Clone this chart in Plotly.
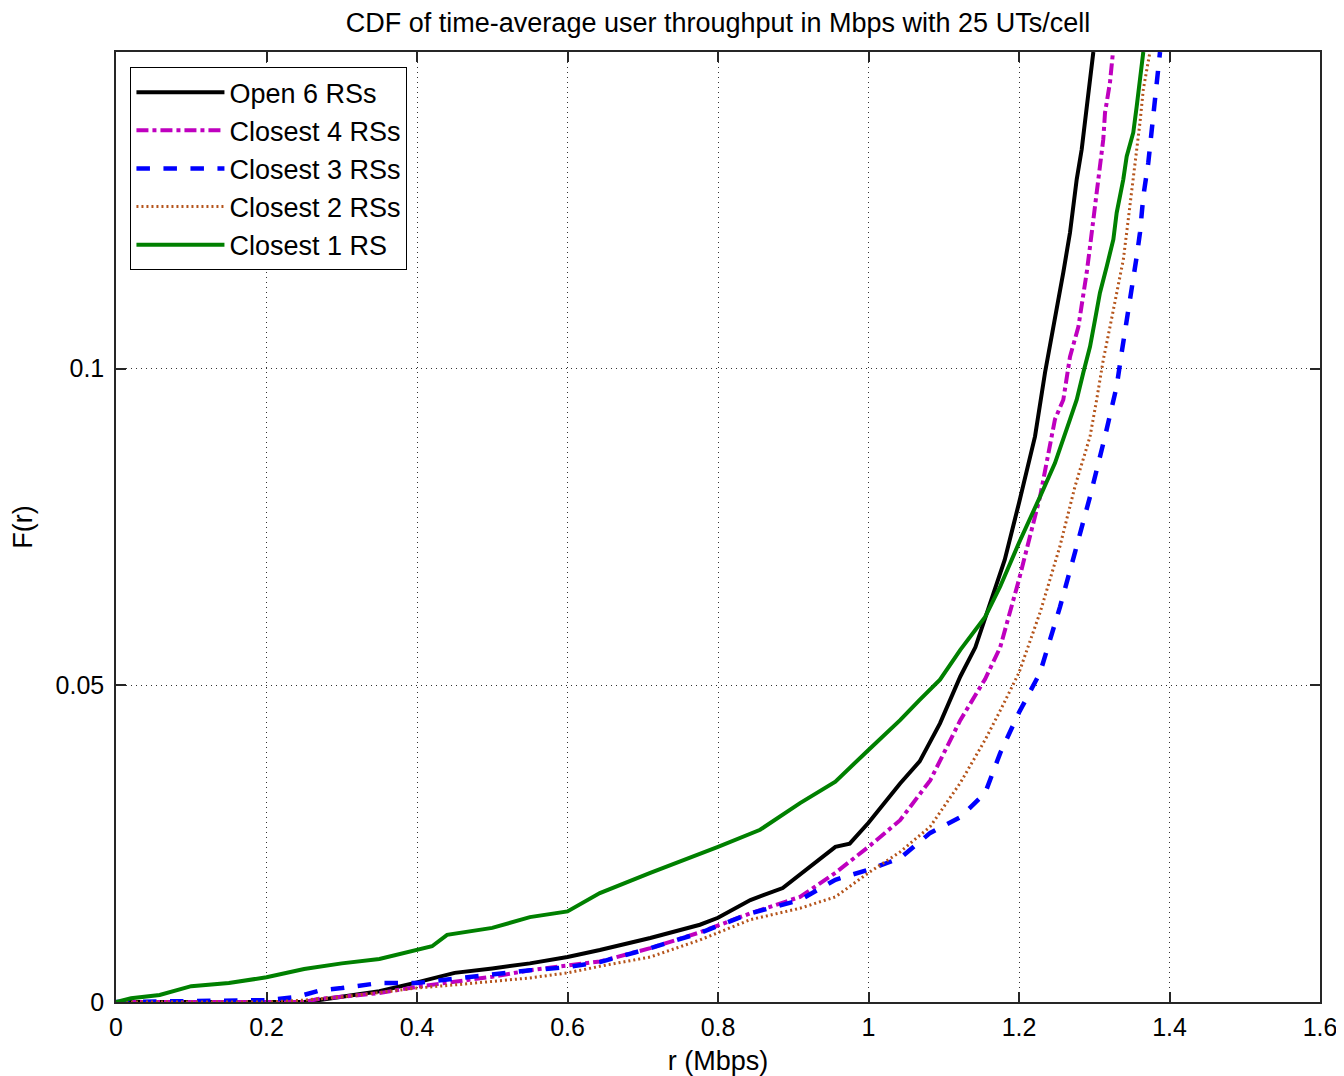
import plotly.graph_objects as go

# ---------------- data ----------------
open6_r = [0, 0.25, 0.27, 0.30, 0.35, 0.40, 0.45, 0.50, 0.55, 0.60, 0.643, 0.71, 0.776, 0.80, 0.843, 0.886,
           0.922, 0.956, 0.975, 1.0, 1.042, 1.068, 1.095, 1.122, 1.142, 1.162, 1.181, 1.2, 1.2213, 1.2346,
           1.2456, 1.2589, 1.2678, 1.2767, 1.2833, 1.29, 1.2988]
open6_F = [0, 0, 0.0003, 0.0008, 0.0017, 0.0031, 0.0046, 0.0053, 0.0061, 0.0071, 0.0082, 0.0101, 0.0122, 0.0133,
           0.0161, 0.018, 0.0213, 0.0245, 0.025, 0.0283, 0.0345, 0.038, 0.044, 0.0514, 0.056, 0.063, 0.0698,
           0.0788, 0.0893, 0.0994, 0.1062, 0.1152, 0.1215, 0.1299, 0.1346, 0.1414, 0.15]

close4_r = [0, 0.25, 0.27, 0.30, 0.35, 0.40, 0.45, 0.50, 0.55, 0.60, 0.643, 0.71, 0.776, 0.843, 0.909, 0.956,
            1.0, 1.042, 1.082, 1.122, 1.155, 1.175, 1.2, 1.228, 1.2478, 1.2589, 1.2678, 1.2789, 1.2833, 1.29,
            1.2944, 1.301, 1.3054, 1.312, 1.3143, 1.3209, 1.3249]
close4_F = [0, 0, 0.0005, 0.0008, 0.0014, 0.0024, 0.0032, 0.004, 0.005, 0.0058, 0.0064, 0.0085, 0.011, 0.014,
            0.0166, 0.0204, 0.0245, 0.0287, 0.035, 0.0445, 0.051, 0.056, 0.0667, 0.0798, 0.092, 0.0951, 0.1019,
            0.1066, 0.1098, 0.1152, 0.1193, 0.1256, 0.1299, 0.1362, 0.1404, 0.1452, 0.15]

close3_r = [0, 0.05, 0.2, 0.24, 0.27, 0.30, 0.35, 0.40, 0.45, 0.50, 0.55, 0.60, 0.643, 0.71, 0.776, 0.843,
            0.909, 0.956, 1.0, 1.042, 1.082, 1.122, 1.155, 1.175, 1.2, 1.228, 1.2545, 1.2744, 1.2944, 1.3143,
            1.3209, 1.3298, 1.3364, 1.3431, 1.3497, 1.3564, 1.3608, 1.3652, 1.3718, 1.3763, 1.3807, 1.3851, 1.3874]
close3_F = [0, 0.0001, 0.0003, 0.0008, 0.0018, 0.0022, 0.003, 0.003, 0.0037, 0.0043, 0.005, 0.0055, 0.0063,
            0.0085, 0.0109, 0.014, 0.0161, 0.0193, 0.0209, 0.0227, 0.0267, 0.0292, 0.033, 0.0393, 0.0457, 0.052,
            0.0624, 0.071, 0.0798, 0.0893, 0.093, 0.0972, 0.1025, 0.1073, 0.1125, 0.1177, 0.1215, 0.1272, 0.1325,
            0.1373, 0.143, 0.1468, 0.15]

close2_r = [0, 0.2, 0.25, 0.30, 0.35, 0.40, 0.45, 0.50, 0.55, 0.60, 0.65, 0.71, 0.776, 0.843, 0.909, 0.956,
            1.0, 1.042, 1.082, 1.122, 1.155, 1.175, 1.2, 1.228, 1.2545, 1.2744, 1.2944, 1.3032, 1.312, 1.3209,
            1.3298, 1.3386, 1.3431, 1.3475, 1.3519, 1.3564, 1.3608, 1.3652, 1.374]
close2_F = [0, 0, 0.0003, 0.0008, 0.0015, 0.0022, 0.0027, 0.0032, 0.0038, 0.0046, 0.0058, 0.0071, 0.0098,
            0.013, 0.0148, 0.0166, 0.0204, 0.0237, 0.0277, 0.0346, 0.0414, 0.046, 0.052, 0.0615, 0.072, 0.0814,
            0.0893, 0.0951, 0.1014, 0.1066, 0.112, 0.1172, 0.1215, 0.1256, 0.1299, 0.1346, 0.1389, 0.1441, 0.15]

close1_r = [0, 0.02, 0.058, 0.1, 0.15, 0.2, 0.25, 0.3, 0.35, 0.4, 0.42, 0.44, 0.5, 0.55, 0.6, 0.643, 0.71, 0.8,
            0.856, 0.909, 0.956, 1.0, 1.042, 1.068, 1.095, 1.122, 1.155, 1.175, 1.2, 1.228, 1.2478, 1.2678,
            1.2767, 1.2855, 1.2944, 1.301, 1.3076, 1.3165, 1.3254, 1.3298, 1.3386, 1.3431, 1.3519, 1.3564,
            1.3608, 1.3652]
close1_F = [0, 0.0006, 0.0011, 0.0025, 0.003, 0.0039, 0.0052, 0.0061, 0.0068, 0.0082, 0.0088, 0.0106, 0.0117,
            0.0134, 0.0143, 0.0172, 0.0204, 0.0245, 0.0272, 0.0314, 0.0348, 0.0398, 0.0445, 0.0477, 0.0509,
            0.0556, 0.0608, 0.0656, 0.0725, 0.0798, 0.0851, 0.092, 0.0951, 0.0994, 0.1035, 0.1077, 0.112,
            0.1161, 0.1204, 0.1246, 0.1299, 0.1335, 0.1373, 0.1414, 0.1457, 0.15]

x_ticks = [0, 0.2, 0.4, 0.6, 0.8, 1.0, 1.2, 1.4, 1.6]
x_tick_labels = ["0", "0.2", "0.4", "0.6", "0.8", "1", "1.2", "1.4", "1.6"]
y_ticks = [0, 0.05, 0.1]
y_tick_labels = ["0", "0.05", "0.1"]

FONT = "Liberation Sans, Arial, Helvetica, sans-serif"

series = [
    ("Open 6 RSs", open6_r, open6_F, dict(color="#000000", width=4, dash="solid")),
    ("Closest 4 RSs", close4_r, close4_F, dict(color="#BF00BF", width=4, dash="dashdot")),
    ("Closest 3 RSs", close3_r, close3_F, dict(color="#0000FF", width=4.5, dash="dash")),
    ("Closest 2 RSs", close2_r, close2_F, dict(color="#B5541B", width=3, dash="2px,3px")),
    ("Closest 1 RS", close1_r, close1_F, dict(color="#008000", width=4, dash="solid")),
]

fig = go.Figure()
for name, r, F, line in series:
    fig.add_trace(go.Scatter(x=r, y=F, mode="lines", name=name, line=line))

axis_common = dict(
    showline=True, linecolor="#262626", linewidth=1.5, mirror="ticks",
    ticks="inside", ticklen=10, tickwidth=1.5, tickcolor="#262626",
    showgrid=True, gridcolor="#333333", gridwidth=1, griddash="1px,4px",
    zeroline=False, automargin=False,
    tickfont=dict(family=FONT, size=25, color="#000000"),
)

# the page body has an 8px margin, so the figure is shifted by 8px; compensate
fig.update_layout(
    width=1336, height=1068,
    paper_bgcolor="white", plot_bgcolor="white",
    margin=dict(l=108, r=24, t=44, b=74),
    font=dict(family=FONT, color="#000000"),
    title=dict(text="CDF of time-average user throughput in Mbps with 25 UTs/cell",
               x=0.5, xref="paper", xanchor="center",
               y=1 - 15 / 1068, yref="container", yanchor="middle",
               font=dict(family=FONT, size=27, color="#000000"),
               automargin=False),
    xaxis=dict(range=[0, 1.6], tickvals=x_ticks, ticktext=x_tick_labels,
               ticklabelstandoff=2,
               title=dict(text="r (Mbps)", font=dict(family=FONT, size=27), standoff=12),
               **axis_common),
    yaxis=dict(range=[0, 0.15], tickvals=y_ticks, ticktext=y_tick_labels,
               ticklabelstandoff=5,
               title=dict(text="F(r)", font=dict(family=FONT, size=27), standoff=18),
               **axis_common),
    legend=dict(x=0.012, y=0.984, xanchor="left", yanchor="top",
                bgcolor="white", bordercolor="#000000", borderwidth=1,
                font=dict(family=FONT, size=27, color="#000000"),
                itemwidth=88, tracegroupgap=0),
    showlegend=True,
)

fig.write_html("out.html")
